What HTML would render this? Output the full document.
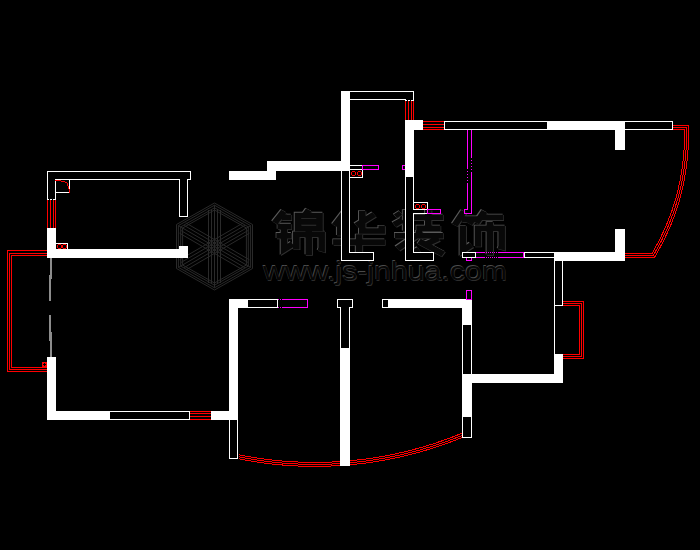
<!DOCTYPE html>
<html>
<head>
<meta charset="utf-8">
<title>Floor plan</title>
<style>
html,body{margin:0;padding:0;background:#000;}
body{width:700px;height:550px;overflow:hidden;font-family:"Liberation Sans",sans-serif;}
svg{display:block;position:absolute;left:0;top:0;}
.w{fill:#fff;stroke:none;}
.h{fill:#000;stroke:#fff;stroke-width:1;}
.r{fill:none;stroke:#f00;stroke-width:1;}
.m{fill:none;stroke:#f0f;stroke-width:1;}
.g{fill:none;stroke:#8a8a8a;stroke-width:1;}
</style>
</head>
<body>
<svg width="700" height="550" viewBox="0 0 700 550" shape-rendering="crispEdges">
<rect x="0" y="0" width="700" height="550" fill="#000"/>

<!-- WATERMARK -->
<!--WM-->
<g id="wm" shape-rendering="auto" fill="none" stroke-linecap="butt">
<path d="M214.5,203.0 L252.5,224.5 L252.5,268.5 L214.5,290.0 L176.5,268.5 L176.5,224.5 Z M214.5,205.2 L250.6,225.6 L250.6,267.4 L214.5,287.8 L178.4,267.4 L178.4,225.6 Z M214.5,207.8 L248.3,226.9 L248.3,266.1 L214.5,285.2 L180.7,266.1 L180.7,226.9 Z M214.5,210.0 L246.4,228.0 L246.4,265.0 L214.5,283.0 L182.6,265.0 L182.6,228.0 Z M208.5,210.0 L208.5,283.0 M211.5,210.0 L211.5,283.0 M214.5,205.2 L214.5,287.8 M217.5,210.0 L217.5,283.0 M220.5,210.0 L220.5,283.0 M243.4,222.8 L179.6,259.8 M244.9,225.4 L181.1,262.4 M250.6,225.6 L178.4,267.4 M247.9,230.6 L184.1,267.6 M249.4,233.2 L185.6,270.2 M249.4,259.8 L185.6,222.8 M247.9,262.4 L184.1,225.4 M250.6,267.4 L178.4,225.6 M244.9,267.6 L181.1,230.6 M243.4,270.2 L179.6,233.2 " stroke="#2a2a2a" stroke-width="1"/>
<g transform="translate(272,209) scale(0.54,0.46)"><path d="M22,5 L5,30 M18,18 H36 M10,38 H36 M8,58 H36 M22,38 V88 L38,76 M68,2 L62,12 M48,14 H88 V42 H48 Z M48,28 H88 M45,88 V55 H92 V86 L86,84 M68,42 V100" stroke="#5a5a5a" stroke-width="13" transform="translate(-1.2,-1.4)"/><path d="M22,5 L5,30 M18,18 H36 M10,38 H36 M8,58 H36 M22,38 V88 L38,76 M68,2 L62,12 M48,14 H88 V42 H48 Z M48,28 H88 M45,88 V55 H92 V86 L86,84 M68,42 V100" stroke="#303030" stroke-width="13" transform="translate(1.2,1.4)"/><path d="M22,5 L5,30 M18,18 H36 M10,38 H36 M8,58 H36 M22,38 V88 L38,76 M68,2 L62,12 M48,14 H88 V42 H48 Z M48,28 H88 M45,88 V55 H92 V86 L86,84 M68,42 V100" stroke="#080808" stroke-width="12"/></g>
<g transform="translate(332,209) scale(0.54,0.46)"><path d="M26,4 L5,36 M15,25 V58 M78,12 L45,36 M56,4 V48 H92 V36 M2,72 H98 M50,55 V100" stroke="#5a5a5a" stroke-width="13" transform="translate(-1.2,-1.4)"/><path d="M26,4 L5,36 M15,25 V58 M78,12 L45,36 M56,4 V48 H92 V36 M2,72 H98 M50,55 V100" stroke="#303030" stroke-width="13" transform="translate(1.2,1.4)"/><path d="M26,4 L5,36 M15,25 V58 M78,12 L45,36 M56,4 V48 H92 V36 M2,72 H98 M50,55 V100" stroke="#080808" stroke-width="12"/></g>
<g transform="translate(392,209) scale(0.54,0.46)"><path d="M8,8 L14,16 M4,34 L19,24 M26,2 V48 M40,18 H95 M67,2 V42 M45,42 H90 M50,47 V56 M5,58 H95 M45,58 L10,86 M34,72 V98 L50,88 M86,64 L60,78 M50,70 L95,98" stroke="#5a5a5a" stroke-width="13" transform="translate(-1.2,-1.4)"/><path d="M8,8 L14,16 M4,34 L19,24 M26,2 V48 M40,18 H95 M67,2 V42 M45,42 H90 M50,47 V56 M5,58 H95 M45,58 L10,86 M34,72 V98 L50,88 M86,64 L60,78 M50,70 L95,98" stroke="#303030" stroke-width="13" transform="translate(1.2,1.4)"/><path d="M8,8 L14,16 M4,34 L19,24 M26,2 V48 M40,18 H95 M67,2 V42 M45,42 H90 M50,47 V56 M5,58 H95 M45,58 L10,86 M34,72 V98 L50,88 M86,64 L60,78 M50,70 L95,98" stroke="#080808" stroke-width="12"/></g>
<g transform="translate(452,209) scale(0.54,0.46)"><path d="M22,5 L5,35 M18,22 H38 L32,32 M20,36 V90 L36,78 M60,5 L45,30 M55,18 H95 M48,82 V42 H92 V82 L86,80 M70,28 V100" stroke="#5a5a5a" stroke-width="13" transform="translate(-1.2,-1.4)"/><path d="M22,5 L5,35 M18,22 H38 L32,32 M20,36 V90 L36,78 M60,5 L45,30 M55,18 H95 M48,82 V42 H92 V82 L86,80 M70,28 V100" stroke="#303030" stroke-width="13" transform="translate(1.2,1.4)"/><path d="M22,5 L5,35 M18,22 H38 L32,32 M20,36 V90 L36,78 M60,5 L45,30 M55,18 H95 M48,82 V42 H92 V82 L86,80 M70,28 V100" stroke="#080808" stroke-width="12"/></g>
<g stroke="none"><text x="262.4" y="279.4" font-family="Liberation Sans, sans-serif" font-size="26" textLength="244" lengthAdjust="spacingAndGlyphs" fill="#4c4c4c">www.js-jnhua.com</text>
<text x="263.6" y="280.6" font-family="Liberation Sans, sans-serif" font-size="26" textLength="244" lengthAdjust="spacingAndGlyphs" fill="#2c2c2c">www.js-jnhua.com</text>
<text x="263" y="280" font-family="Liberation Sans, sans-serif" font-size="26" textLength="244" lengthAdjust="spacingAndGlyphs" fill="#060606">www.js-jnhua.com</text></g>
</g>
<!--/WM-->

<!-- ===== LEFT TOP ROOM ===== -->
<path class="h" d="M47.5,171.5 H190.5 V179.5 H187.5 V216.5 H179.5 V179.5 H55.5 V199.5 H47.5 Z"/>
<rect class="h" x="55.5" y="179.5" width="14" height="13"/>
<path class="r" d="M55,180.5 H61 M61,181.5 H65 M65,182.5 H67 M67.5,183 V186 M68.5,186 V189 M69.5,189 V193"/>
<path d="M48,199.5 H55" stroke="#000" stroke-dasharray="1 2" stroke-dashoffset="-1" fill="none"/>
<path class="r" d="M47.5,200 V228 M50.5,200 V228 M53.5,200 V228 M55.5,200 V228"/>
<rect class="w" x="47" y="228" width="9" height="30"/>
<rect class="w" x="47" y="249" width="141" height="9"/>
<rect class="w" x="179" y="246" width="9" height="12"/>
<rect class="h" x="55.5" y="243.5" width="12" height="6"/>
<g><circle class="r" cx="59.5" cy="246.5" r="2"/><circle class="r" cx="64.5" cy="246.5" r="2"/></g>

<!-- left balcony -->
<path class="r" d="M47,250.5 H7.5 V371.5 H47 M47,253.5 H9.5 V369.5 H47 M47,255.5 H11.5 V367.5 H47"/>
<rect x="42" y="362" width="5" height="5" fill="#f00"/>
<path d="M44.5,363 V366 M43,364.5 H46" stroke="#000" stroke-width="1" fill="none"/>
<path d="M50,258 h2 v21 h-2 z M49,275 h2 v26 h-2 z M49,315 h2 v26 h-2 z M50,332 h2 v25 h-2 z" fill="#8c8c8c"/>

<!-- left wall lower + bottom wall -->
<rect class="w" x="47" y="357" width="9" height="63"/>
<rect class="w" x="47" y="411" width="191" height="9"/>
<rect class="h" x="109.5" y="411.5" width="80" height="8"/>
<rect x="190" y="411" width="21" height="9" fill="#000"/>
<path class="r" d="M190,411.5 H211 M190,413.5 H211 M190,416.5 H211 M190,419.5 H211"/>
<rect class="w" x="229" y="299" width="9" height="121"/>
<rect class="h" x="229.5" y="419.5" width="8" height="39"/>

<!-- top of bottom-left room -->
<rect class="w" x="229" y="299" width="19" height="9"/>
<rect class="h" x="247.5" y="299.5" width="30" height="8"/>
<path class="m" d="M283,299.5 H307.5 V307.5 H283"/>
<path class="m" stroke-dasharray="1 1" d="M278,299.5 H283 M278,307.5 H283"/>

<!-- middle pillar -->
<path class="h" d="M337.5,299.5 H352.5 V307.5 H349.5 V348.5 H340.5 V307.5 H337.5 Z"/>
<rect class="w" x="340" y="348" width="10" height="118"/>

<!-- right of bottom -->
<rect class="w" x="382" y="299" width="90" height="9"/>
<rect class="h" x="382.5" y="299.5" width="6" height="8"/>
<rect class="w" x="462" y="299" width="10" height="26"/>
<rect class="h" x="462.5" y="324.5" width="9" height="50"/>
<rect class="w" x="462" y="374" width="10" height="43"/>
<rect class="h" x="462.5" y="416.5" width="9" height="21"/>
<rect class="w" x="462" y="374" width="101" height="9"/>
<rect class="w" x="554" y="354" width="9" height="29"/>
<rect class="m" x="466.5" y="290.5" width="5" height="9"/>

<!-- bottom red arc -->
<g id="arcb">
<path class="r" d="M238.5,454.8 A386.2,386.2 0 0 0 340.0,461.6"/>
<path class="r" d="M350.0,460.8 A386.2,386.2 0 0 0 462.0,433.3"/>
<path class="r" d="M238.5,456.8 A388.2,388.2 0 0 0 340.0,463.6"/>
<path class="r" d="M350.0,462.8 A388.2,388.2 0 0 0 462.0,435.5"/>
<path class="r" d="M238.5,458.8 A390.2,390.2 0 0 0 340.0,465.6"/>
<path class="r" d="M350.0,464.8 A390.2,390.2 0 0 0 462.0,437.6"/>
</g>

<!-- right small balcony -->
<path class="h" d="M554.5,261 V305.5 H562.5 V261"/>
<path d="M554.5,305 V354" stroke="#fff" stroke-width="1" fill="none"/>
<path class="r" d="M563,301.5 H583.5 V358.5 H563 M563,303.5 H581.5 V356.5 H563 M563,305.5 H579.5 V354.5 H563"/>

<!-- thin wall y252 -->
<rect class="h" x="462.5" y="252.5" width="13" height="5"/>
<path class="m" d="M476,252.5 H484 M476,257.5 H484 M498,252.5 H524 M498,257.5 H524 M523.5,252.5 V257.5"/>
<path class="m" stroke-dasharray="1 1" d="M484,252.5 H498 M484,257.5 H498"/>
<path class="m" d="M466.5,258 V260.5 H471.5 V258"/>
<rect class="h" x="524.5" y="252.5" width="30" height="5"/>
<rect class="w" x="554" y="252" width="71" height="9"/>
<rect class="w" x="615" y="229" width="10" height="32"/>

<!-- top right wall -->
<rect class="w" x="405" y="120" width="18" height="10"/>
<rect class="w" x="405" y="120" width="9" height="57"/>
<path class="r" d="M423,121.5 H444 M423,124.5 H444 M423,127.5 H444 M423,129.5 H444"/>
<rect class="h" x="444.5" y="121.5" width="103" height="8"/>
<rect class="w" x="547" y="121" width="78" height="9"/>
<rect class="w" x="615" y="121" width="10" height="29"/>
<rect class="h" x="624.5" y="121.5" width="48" height="8"/>

<!-- right red arc -->
<g id="arcr">
<path class="r" d="M673,129.5 H684.5 V135.0 A233,233 0 0 1 652.1,253.5 H625"/>
<path class="r" d="M673,127.5 H686.5 V135.0 A235,235 0 0 1 653.3,255.5 H625"/>
<path class="r" d="M673,125.5 H688.5 V135.0 A237,237 0 0 1 654.4,257.5 H625"/>
</g>

<!-- top middle -->
<rect class="w" x="341" y="91" width="9" height="80"/>
<path class="h" d="M350,91.5 H413.5 V100.5 H405.5 V99.5 H350"/>
<path d="M406,100.5 H413" stroke="#000" stroke-dasharray="1 2" stroke-dashoffset="-1" fill="none"/>
<path class="r" d="M405.5,101 V120 M408.5,101 V120 M411.5,101 V120 M413.5,101 V120"/>
<rect class="w" x="267" y="161" width="83" height="10"/>
<rect class="w" x="267" y="161" width="9" height="19"/>
<rect class="w" x="229" y="171" width="47" height="9"/>
<!-- L hollow walls -->
<path class="h" d="M341.5,171 V260.5 H373.5 V252.5 H349.5 V171"/>
<path class="h" d="M405.5,177 V260.5 H433.5 V252.5 H413.5 V177"/>
<rect x="413" y="210" width="1" height="3" fill="#000"/>
<!-- oo boxes -->
<rect class="h" x="349.5" y="165.5" width="13" height="12"/>
<path d="M350,169.5 H362" stroke="#fff" fill="none"/>
<g><circle class="r" cx="353.5" cy="173.5" r="2"/><circle class="r" cx="359.5" cy="173.5" r="2"/></g>
<rect class="m" x="362.5" y="165.5" width="16" height="4"/>
<path class="m" d="M405,165.5 H402.5 V169.5 H405"/>
<rect class="h" x="413.5" y="202.5" width="14" height="7"/>
<path d="M414,213.5 H428" stroke="#fff" fill="none"/>
<g><circle class="r" cx="417.5" cy="206.5" r="2"/><circle class="r" cx="423.5" cy="206.5" r="2"/></g>
<rect class="m" x="427.5" y="209.5" width="13" height="4"/>
<!-- magenta thin vertical -->
<path class="m" d="M467.5,130 V168 M467.5,184 V209.5 H464.5 V213.5 H471.5 V172 M471.5,130 V157"/>
<path class="m" stroke-dasharray="1 2" d="M467.5,168 V184 M471.5,157 V172"/>
</svg>
</body>
</html>
